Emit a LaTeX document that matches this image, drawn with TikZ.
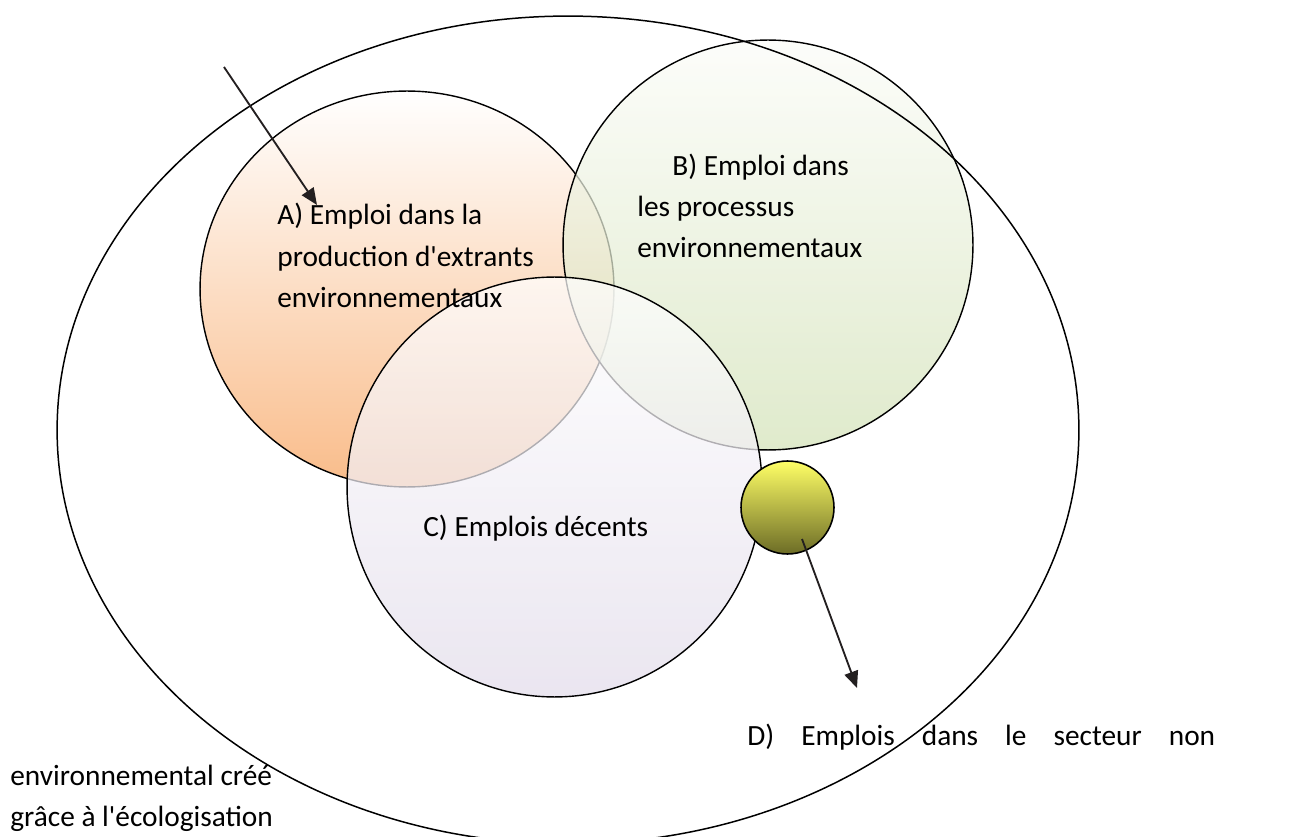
\documentclass[tikz,border=0pt]{standalone}
\usepackage{fontspec}
\setmainfont{Carlito}
\usetikzlibrary{shapes.geometric,arrows.meta}
\definecolor{orgbot}{HTML}{F9BC8A}
\definecolor{grntop}{HTML}{FBFCF8}
\definecolor{grnbot}{HTML}{D3E2B8}
\definecolor{lavbot}{HTML}{E2DCEA}
\definecolor{yeltop}{HTML}{FFFF66}
\definecolor{yelbot}{HTML}{6C6C26}
\definecolor{arrowc}{HTML}{231F20}
\begin{document}
\begin{tikzpicture}[x=0.02cm,y=-0.02cm,
  venn/.style={draw=black, line width=0.8pt, inner sep=0pt},
  lbl/.style={anchor=base west, inner sep=0pt, font=\fontsize{16.7}{20}\selectfont, text=black},
  arr/.style={draw=arrowc, line width=1.05pt, -{Triangle[length=9.5pt,width=8pt]}}]
\useasboundingbox (0,0) rectangle (1298,837);
\begin{scope}
\clip (0,0) rectangle (1298,837);
% A
\node[venn, ellipse, minimum width=8.28cm, minimum height=7.92cm, top color=white, bottom color=orgbot] (A) at (407,289) {};
% B
\node[venn, circle, minimum size=8.2cm, top color=grntop, bottom color=grnbot, fill opacity=0.72] (B) at (768,245) {};
% C
\node[venn, ellipse, minimum width=8.3cm, minimum height=8.4cm, top color=white, bottom color=lavbot, fill opacity=0.72] (C) at (554.5,487) {};
% D
\node[venn, circle, line width=0.9pt, minimum size=1.86cm, top color=yeltop, bottom color=yelbot] (D) at (787.5,507.5) {};
% big ellipse
\node[ellipse, draw=black, line width=0.85pt, inner sep=0pt, minimum width=20.44cm, minimum height=16.56cm] (E) at (568,430) {};
\end{scope}
% labels
\node[lbl] (a1) at (277,225) {A) Emploi dans la};
\node[lbl] (a2) at (277,266.5) {production d\textquotesingle extrants};
\node[lbl] (a3) at (277,308) {environnementaux};
\node[lbl] (b1) at (672,176) {B) Emploi dans};
\node[lbl] (b2) at (637,217) {les processus};
\node[lbl] (b3) at (637,258) {environnementaux};
\node[lbl] (c1) at (423,537) {C) Emplois décents};
\node[lbl] (d1) at (747,745) {\makebox[9.36cm][s]{D) Emplois dans le secteur non}};
\node[lbl] (d2) at (10,785) {environnemental créé};
\node[lbl] (d3) at (10,826) {grâce à l\textquotesingle écologisation};
% arrows
\coordinate (p0) at (224,67);
\coordinate (p1) at (317,205);
\draw[arr] (p0) -- (p1);
\coordinate (q0) at (802,539);
\coordinate (q1) at (857,688);
\draw[arr] (q0) -- (q1);
\end{tikzpicture}
\end{document}
